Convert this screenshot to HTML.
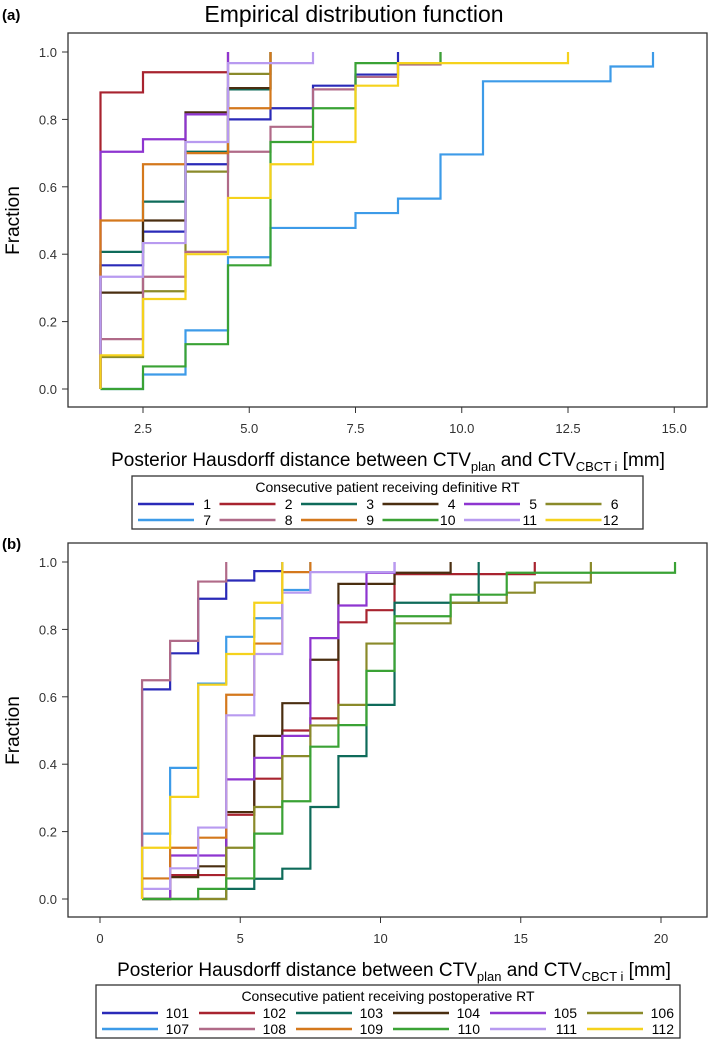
<!DOCTYPE html>
<html><head><meta charset="utf-8"><style>
body{margin:0;background:#fff}
svg{display:block;font-family:"Liberation Sans",sans-serif}
</style></head><body>
<svg id="chart" width="709" height="1041" xmlns="http://www.w3.org/2000/svg">
<text x="354" y="22" font-size="23" text-anchor="middle">Empirical distribution function</text>
<text x="2" y="20" font-size="15" font-weight="bold">(a)</text>
<text x="2" y="549" font-size="15" font-weight="bold">(b)</text>
<g id="pa"></g>
<g id="pb"></g>
</svg>
<script>
const colors=["#2a2ab8","#a8232f","#0e6b5a","#4a2e10","#8e35d0","#8a8a2a","#3d9be8","#b06a88","#d4781c","#3aa235","#b89af0","#f5d21c"];
const namesA=["1","2","3","4","5","6","7","8","9","10","11","12"];
const namesB=["101","102","103","104","105","106","107","108","109","110","111","112"];
const xA=[[1.5,2.5,3.5,4.5,5.5,6.5,7.5,8.5],[1.5,2.5,4.5],[1.5,2.5,3.5,4.5,5.5],[1.5,2.5,3.5,4.5,5.5],[1.5,2.5,3.5,4.5],[1.5,2.5,3.5,4.5,5.5],[1.5,2.5,3.5,4.5,5.5,7.5,8.5,9.5,10.5,13.5,14.5],[1.5,2.5,3.5,4.5,5.5,6.5,7.5,8.5,9.5],[1.5,2.5,3.5,4.5,5.5],[1.5,2.5,3.5,4.5,5.5,6.5,7.5,9.5],[1.5,2.5,3.5,4.5,6.5],[1.5,2.5,3.5,4.5,5.5,6.5,7.5,8.5,12.5]];
const yA=[[0.367,0.467,0.667,0.8,0.833,0.9,0.933,1],[0.88,0.94,1],[0.407,0.556,0.704,0.889,1],[0.286,0.5,0.821,0.893,1],[0.704,0.741,0.815,1],[0.095,0.29,0.645,0.935,1],[0,0.043,0.174,0.391,0.478,0.522,0.565,0.696,0.913,0.957,1],[0.148,0.333,0.407,0.704,0.778,0.889,0.926,0.963,1],[0.5,0.667,0.7,0.833,1],[0,0.067,0.133,0.367,0.733,0.833,0.967,1],[0.333,0.433,0.733,0.967,1],[0.1,0.267,0.4,0.567,0.667,0.733,0.9,0.967,1]];
const xB=[[1.5,2.5,3.5,4.5,5.5,6.5],[1.5,2.5,4.5,5.5,6.5,7.5,8.5,9.5,10.5,15.5],[1.5,4.5,5.5,6.5,7.5,8.5,9.5,10.5,13.5],[1.5,2.5,3.5,4.5,5.5,6.5,7.5,8.5,10.5,12.5],[1.5,2.5,4.5,5.5,6.5,7.5,8.5,9.5,10.5],[1.5,4.5,5.5,6.5,7.5,8.5,9.5,10.5,12.5,14.5,15.5,17.5],[1.5,2.5,3.5,4.5,5.5,6.5,7.5],[1.5,2.5,3.5,4.5],[1.5,2.5,3.5,4.5,5.5,6.5,7.5],[1.5,3.5,4.5,5.5,6.5,7.5,8.5,9.5,10.5,12.5,14.5,20.5],[1.5,2.5,3.5,4.5,5.5,6.5,7.5,10.5],[1.5,2.5,3.5,4.5,5.5,6.5]];
const yB=[[0.622,0.729,0.891,0.945,0.973,1],[0,0.071,0.25,0.357,0.5,0.536,0.821,0.857,0.964,1],[0,0.03,0.06,0.09,0.273,0.424,0.576,0.879,1],[0,0.065,0.097,0.258,0.484,0.581,0.71,0.935,0.968,1],[0,0.129,0.355,0.419,0.484,0.774,0.871,0.968,1],[0,0.152,0.273,0.424,0.515,0.576,0.758,0.818,0.879,0.909,0.939,1],[0.194,0.389,0.639,0.778,0.833,0.917,1],[0.649,0.766,0.942,1],[0.061,0.152,0.182,0.606,0.758,0.97,1],[0,0.03,0.061,0.194,0.29,0.452,0.516,0.677,0.839,0.903,0.968,1],[0.03,0.091,0.212,0.545,0.727,0.909,0.97,1],[0.152,0.303,0.636,0.727,0.879,1]];
const ticksA=[2.5,5,7.5,10,12.5,15];
const ticksB=[0,5,10,15,20];
const yTicks=[0,0.2,0.4,0.6,0.8,1];
const NS="http://www.w3.org/2000/svg";
function mk(p,t,a){const e=document.createElementNS(NS,t);for(const k in a)e.setAttribute(k,a[k]);p.appendChild(e);return e;}
function panel(g,cfg){
 const sx=v=>cfg.x0+(v-cfg.v0)*cfg.kx, sy=v=>cfg.y0-(v)*(cfg.y0-cfg.y1);
 const box=mk(g,"rect",{x:68,y:cfg.top,width:639,height:cfg.bot-cfg.top,fill:"none",stroke:"#333","stroke-width":1.3});
 
 
 yTicks.forEach(v=>{
  mk(g,"line",{x1:62,x2:68,y1:sy(v),y2:sy(v),stroke:"#333"});
  const t=mk(g,"text",{x:57,y:sy(v)+5,"font-size":13,"text-anchor":"end",fill:"#333"});t.textContent=v.toFixed(1);
  
  
 });
 cfg.ticks.forEach(v=>{
  mk(g,"line",{x1:sx(v),x2:sx(v),y1:cfg.bot,y2:cfg.bot+6,stroke:"#333"});
  const t=mk(g,"text",{x:sx(v),y:cfg.bot+26,"font-size":13,"text-anchor":"middle",fill:"#333"});t.textContent=cfg.fmt(v);
  
  
 });
 const yl=mk(g,"text",{x:0,y:0,"font-size":19,"text-anchor":"middle",transform:`translate(19,${(cfg.y0+cfg.y1)/2}) rotate(-90)`});yl.textContent="Fraction";
 
 
 const xl=mk(g,"text",{x:cfg.xtX,y:cfg.bot+59,"font-size":19,"text-anchor":"middle"});
 xl.innerHTML='Posterior Hausdorff distance between CTV<tspan font-size="13" dy="5">plan</tspan><tspan dy="-5"> and CTV</tspan><tspan font-size="13" dy="5">CBCT i</tspan><tspan dy="-5"> [mm]</tspan>';
 
 
 cfg.xs.forEach((xs,i)=>{
  let d=`M${sx(xs[0])},${sy(0)}`;
  xs.forEach((x,j)=>{ if(j>0) d+=` H${sx(x)}`; d+=` V${sy(cfg.ys[i][j])}`; });
  const p=mk(g,"path",{d:d,fill:"none",stroke:colors[i],"stroke-width":2.2});
  
  
 });
 const L=cfg.leg;
 const lb=mk(g,"rect",{x:L.x,y:L.y,width:L.w,height:53,fill:"#fff",stroke:"#333","stroke-width":1.3});
 
 
 const lt=mk(g,"text",{x:L.x+L.w/2,y:L.y+16,"font-size":14,"text-anchor":"middle"});lt.textContent=L.title;
 
 
 cfg.names.forEach((n,i)=>{
  const c=i%6,r=Math.floor(i/6),x=L.x+6+c*L.dx,y=L.y+28+r*16;
  mk(g,"line",{x1:x,x2:x+L.lw,y1:y,y2:y,stroke:colors[i],"stroke-width":2.5});
  const t=mk(g,"text",{x:x+L.lw+L.tw,y:y+5,"font-size":14,"text-anchor":"end"});t.textContent=n;
  
  
 });
}
panel(document.getElementById("pa"),{x0:143,v0:2.5,kx:42.5,y0:389,y1:52,top:33,bot:407,ticks:ticksA,fmt:v=>v.toFixed(1),xs:xA,ys:yA,names:namesA,xtX:388,
 leg:{x:132,y:476,w:511,dx:81.5,lw:56,tw:17,title:"Consecutive patient receiving definitive RT"}});
panel(document.getElementById("pb"),{x0:100,v0:0,kx:28.05,y0:899,y1:562,top:543,bot:917,ticks:ticksB,fmt:v=>String(v),xs:xB,ys:yB,names:namesB,xtX:394,
 leg:{x:96,y:985,w:584,dx:97,lw:56,tw:31,title:"Consecutive patient receiving postoperative RT"}});
</script>
</body></html>
